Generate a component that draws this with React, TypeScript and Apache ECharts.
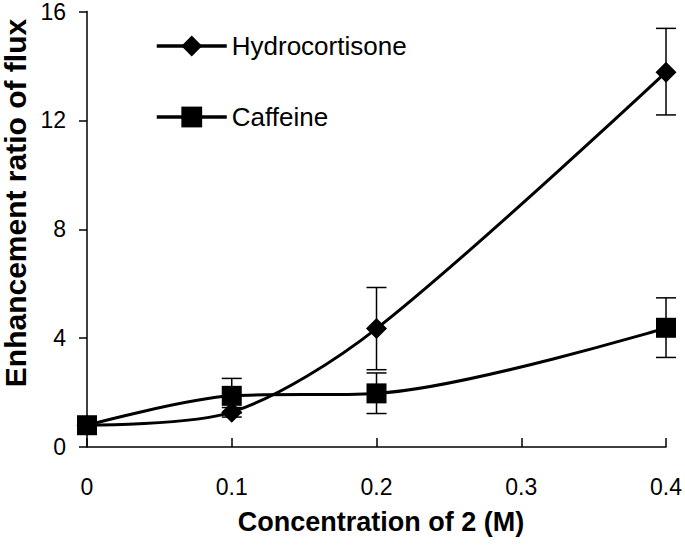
import React, { useEffect, useRef } from "react";
import * as echarts from "echarts";

const xTicks = [0, 0.1, 0.2, 0.3, 0.4];
const concentrations = [0, 0.1, 0.2, 0.4];
const hydrocortisone = [0.8, 1.28, 4.35, 13.77];
const hydroLow = [0.8, 1.1, 2.84, 12.2];
const hydroHigh = [0.8, 1.45, 5.86, 15.38];
const caffeine = [0.8, 1.88, 1.97, 4.38];
const caffLow = [0.8, 1.25, 1.23, 3.29];
const caffHigh = [0.8, 2.52, 2.72, 5.48];

const FONT = "Liberation Sans, Arial, sans-serif";

export default function App() {
  const ref = useRef<HTMLDivElement>(null);
  useEffect(() => {
    if (!ref.current) return;
    const chart = echarts.init(ref.current, undefined, { renderer: "svg" });
    const errData = (low: number[], high: number[]) =>
      concentrations
        .map((x, i) => [x, low[i], high[i]])
        .filter((d, i) => i > 0);
    const renderErr = (params: any, api: any) => {
      const x = api.value(0);
      const lo = api.coord([x, api.value(1)]);
      const hi = api.coord([x, api.value(2)]);
      const half = 10;
      const style = { stroke: "#000", lineWidth: 1.5 };
      return {
        type: "group",
        children: [
          { type: "line", shape: { x1: lo[0], y1: lo[1], x2: hi[0], y2: hi[1] }, style },
          { type: "line", shape: { x1: lo[0] - half, y1: lo[1], x2: lo[0] + half, y2: lo[1] }, style },
          { type: "line", shape: { x1: hi[0] - half, y1: hi[1], x2: hi[0] + half, y2: hi[1] }, style },
        ],
      };
    };
    chart.setOption({
      animation: false,
      backgroundColor: "#fff",
      textStyle: { fontFamily: FONT },
      grid: { left: 87, right: 14, top: 9, bottom: 103 },
      legend: {
        orient: "vertical",
        left: 155,
        top: 33,
        padding: 0,
        itemWidth: 70,
        itemHeight: 26,
        itemGap: 45,
        lineStyle: { width: 3.5, color: "#000" },
        textStyle: { fontSize: 26, color: "#000", fontFamily: FONT, lineHeight: 26 },
        data: ["Hydrocortisone", "Caffeine"],
      },
      xAxis: {
        type: "value",
        min: xTicks[0],
        max: xTicks[xTicks.length - 1],
        interval: 0.1,
        axisLine: { lineStyle: { color: "#000", width: 1.5 } },
        axisTick: { inside: true, length: 9, lineStyle: { color: "#000", width: 1.5 } },
        axisLabel: { fontSize: 23, color: "#000", margin: 28, fontFamily: FONT },
        splitLine: { show: false },
      },
      yAxis: {
        type: "value",
        min: 0,
        max: 16,
        interval: 4,
        axisLine: { show: true, lineStyle: { color: "#000", width: 1.5 } },
        axisTick: { show: true, length: 8, lineStyle: { color: "#000", width: 1.5 } },
        axisLabel: { fontSize: 23, color: "#000", margin: 21, fontFamily: FONT },
        splitLine: { show: false },
      },
      graphic: [
        {
          type: "text",
          x: 15,
          y: 203,
          rotation: Math.PI / 2,
          style: {
            text: "Enhancement ratio of flux",
            font: `bold 30px ${FONT}`,
            fill: "#000",
            align: "center",
            verticalAlign: "middle",
          },
        },
        {
          type: "text",
          x: 381,
          y: 522,
          style: {
            text: "Concentration of 2 (M)",
            font: `bold 27px ${FONT}`,
            fill: "#000",
            align: "center",
            verticalAlign: "middle",
          },
        },
      ],
      series: [
        {
          type: "custom",
          name: "errH",
          renderItem: renderErr,
          data: errData(hydroLow, hydroHigh),
          z: 1,
          silent: true,
        },
        {
          type: "custom",
          name: "errC",
          renderItem: renderErr,
          data: errData(caffLow, caffHigh),
          z: 1,
          silent: true,
        },
        {
          name: "Hydrocortisone",
          type: "line",
          smooth: 0.3,
          data: concentrations.map((x, i) => [x, hydrocortisone[i]]),
          symbol: "diamond",
          symbolSize: 21,
          lineStyle: { color: "#000", width: 3 },
          itemStyle: { color: "#000" },
          z: 3,
        },
        {
          name: "Caffeine",
          type: "line",
          smooth: 0.3,
          data: concentrations.map((x, i) => [x, caffeine[i]]),
          symbol: "rect",
          symbolSize: 20,
          lineStyle: { color: "#000", width: 3 },
          itemStyle: { color: "#000" },
          z: 3,
        },
      ],
    });
    return () => chart.dispose();
  }, []);
  return (
    <div
      ref={ref}
      style={{ position: "fixed", left: 0, top: 0, width: 685, height: 550, background: "#fff" }}
    />
  );
}
